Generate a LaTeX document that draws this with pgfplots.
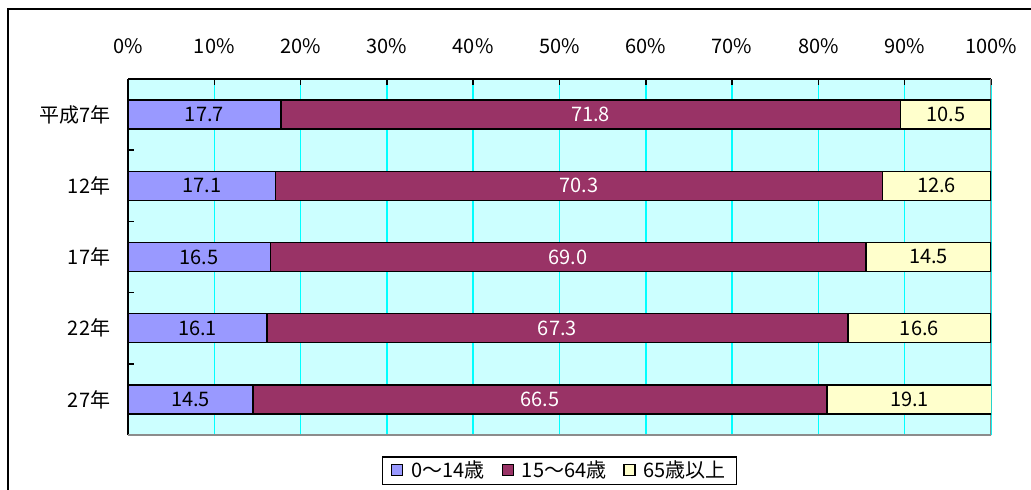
\documentclass[border=0pt]{standalone}
\usepackage{pgfplots}
\pgfplotsset{compat=1.18}
\usepackage{pgfplotstable}
\usepackage{fontspec}
\setmainfont{Noto Sans CJK JP}
\definecolor{cA}{HTML}{9999FF}
\definecolor{cB}{HTML}{993366}
\definecolor{cC}{HTML}{FFFFCC}
\definecolor{bgc}{HTML}{CCFFFF}
\definecolor{gridc}{HTML}{00FFFF}
\pgfkeys{/pgf/number format/assume math mode=true}
\pgfplotstableread{
idx a b c
4 17.7 71.8 10.5
3 17.1 70.3 12.6
2 16.5 69.0 14.5
1 16.1 67.3 16.6
0 14.5 66.5 19.1
}\datatable
\begin{document}
\fontsize{20}{23}\selectfont
\begin{tikzpicture}[x=1pt,y=1pt]
\clip (0,0) rectangle (1031,490);
\fill[white] (0,0) rectangle (1031,490);
\draw[line width=2pt] (8,-20) -- (8,481) -- (1050,481);
\begin{axis}[
  at={(128pt,55pt)}, anchor=south west, scale only axis,
  width=863pt, height=356pt,
  xbar stacked, bar width=29pt,
  xmin=0, xmax=100, ymin=-0.5, ymax=4.5,
  axis background/.style={fill=bgc},
  axis x line=top, axis y line=left,
  axis line style={-, black, line width=2pt},
  xmajorgrids, grid style={gridc, line width=1.5pt},
  xtick={0,10,...,100},
  xticklabel={\pgfmathprintnumber{\tick}\%},
  xticklabel style={yshift=18pt},
  tick align=inside,
  major tick length=6pt,
  xtick style={black, line width=1.5pt},
  ytick={0,1,2,3,4},
  yticklabels={27年,22年,17年,12年,平成7年},
  ytick style={draw=none},
  extra y ticks={0.5,1.5,2.5,3.5},
  extra y tick labels={},
  extra y tick style={ytick style={draw=black, line width=1.5pt}},
  yticklabel style={xshift=-11pt},
  legend style={at={(0.5,-0.06)}, anchor=north, legend columns=3,
    draw=black, line width=1.2pt, inner xsep=9pt, inner ysep=2pt,
    /tikz/every odd column/.append style={column sep=6pt},
    /tikz/every even column/.append style={column sep=15pt}},
  legend cell align=left,
  legend image code/.code={\draw[#1, line width=1.2pt] (1pt,-5pt) rectangle (12pt,6pt);},
]
\addplot[fill=cA, draw=black, line width=1.5pt] table[x=a, y=idx] {\datatable};
\addplot[fill=cB, draw=black, line width=1.5pt] table[x=b, y=idx] {\datatable};
\addplot[fill=cC, draw=black, line width=1.5pt] table[x=c, y=idx] {\datatable};
\legend{0～14歳, 15～64歳, 65歳以上}
\draw[black!45, line width=1.5pt] (rel axis cs:0,0) -- (rel axis cs:1,0) -- (rel axis cs:1,1);
\draw[black, line width=2pt] (rel axis cs:0,0) -- (rel axis cs:0,1) -- (rel axis cs:1,1);
\end{axis}
\begin{axis}[
  at={(128pt,55pt)}, anchor=south west, scale only axis,
  width=863pt, height=356pt,
  xmin=0, xmax=100, ymin=-0.5, ymax=4.5,
  hide axis,
  point meta=explicit,
  nodes near coords={\pgfmathprintnumber[fixed,zerofill,precision=1]{\pgfplotspointmeta}},
  every node near coord/.append style={anchor=center},
]
\addplot[draw=none, mark=none, every node near coord/.append style={text=black}] table[x expr=\thisrow{a}/2, y=idx, meta=a] {\datatable};
\addplot[draw=none, mark=none, every node near coord/.append style={text=white}] table[x expr=\thisrow{a}+\thisrow{b}/2, y=idx, meta=b] {\datatable};
\addplot[draw=none, mark=none, every node near coord/.append style={text=black}] table[x expr=\thisrow{a}+\thisrow{b}+\thisrow{c}/2, y=idx, meta=c] {\datatable};
\end{axis}
\end{tikzpicture}
\end{document}
